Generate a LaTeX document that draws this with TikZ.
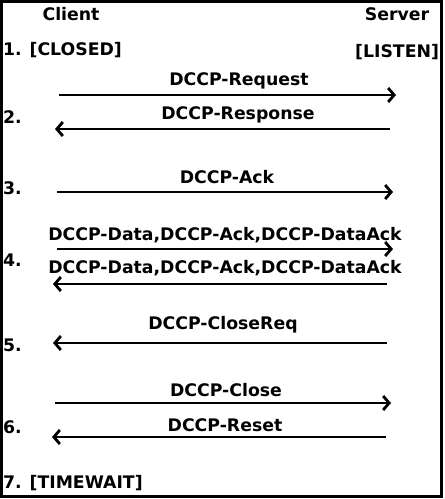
\documentclass[tikz,border=0pt]{standalone}
\usepackage{fontspec}
\setmainfont{DejaVu Sans}
\usetikzlibrary{arrows.meta}
\begin{document}
\begin{tikzpicture}[x=1pt,y=-1pt,
  every node/.style={inner sep=0pt,outer sep=0pt,font=\fontsize{17.3}{19}\selectfont\bfseries},
  msg/.style={line width=2.8pt,-{Straight Barb[length=6pt,width=14pt,line width=2.8pt]}},
  lbl/.style={anchor=center},
  num/.style={anchor=west}]
\useasboundingbox (0,0) rectangle (445,499);
\draw[line width=3pt] (1.5,1.5) rectangle (441.5,496);
% headers
\node[lbl] (client) at (71,14) {Client};
\node[lbl] (server) at (397,14) {Server};
\node[num] (st1) at (3,50) {1. [CLOSED]};
\node[anchor=east] (listen) at (439,52) {[LISTEN]};
% 1 request
\node[lbl] (l1) at (239,81) {DCCP-Request};
\coordinate (c1) at (59,95); \coordinate (s1) at (396,95);
\draw[msg] (c1) -- (s1);
% 2 response
\node[num] (n2) at (3,117) {2.};
\node[lbl] (l2) at (238,115) {DCCP-Response};
\coordinate (c2) at (55,129); \coordinate (s2) at (390,129);
\draw[msg] (s2) -- (c2);
% 3 ack
\node[num] (n3) at (3,188) {3.};
\node[lbl] (l3) at (227,177) {DCCP-Ack};
\coordinate (c3) at (57,192); \coordinate (s3) at (393,192);
\draw[msg] (c3) -- (s3);
% 4 data
\node[lbl] (l4a) at (225,235) {DCCP-Data,DCCP-Ack,DCCP-DataAck};
\coordinate (c4) at (57,249); \coordinate (s4) at (393,249);
\draw[msg] (c4) -- (s4);
\node[num] (n4) at (3,260) {4.};
\node[lbl] (l4b) at (225,268) {DCCP-Data,DCCP-Ack,DCCP-DataAck};
\coordinate (c4b) at (53,284); \coordinate (s4b) at (387,284);
\draw[msg] (s4b) -- (c4b);
% 5 closereq
\node[lbl] (l5) at (223,325) {DCCP-CloseReq};
\node[num] (n5) at (3,345) {5.};
\coordinate (c5) at (53,343); \coordinate (s5) at (387,343);
\draw[msg] (s5) -- (c5);
% 6 close / reset
\node[lbl] (l6a) at (226,390) {DCCP-Close};
\coordinate (c6) at (55,403); \coordinate (s6) at (391,403);
\draw[msg] (c6) -- (s6);
\node[num] (n6) at (3,427) {6.};
\node[lbl] (l6b) at (225,425) {DCCP-Reset};
\coordinate (c6b) at (52,437); \coordinate (s6b) at (386,437);
\draw[msg] (s6b) -- (c6b);
% 7
\node[num] (st7) at (3,483) {7. [TIMEWAIT]};
\end{tikzpicture}
\end{document}
